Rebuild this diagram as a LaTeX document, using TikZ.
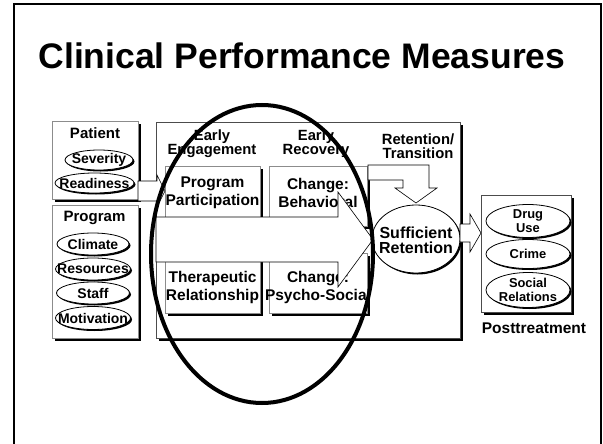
\documentclass[tikz,border=0pt]{standalone}
\usepackage{fontspec}
\setmainfont{Liberation Sans}
\usetikzlibrary{shapes.geometric,shadows}
\begin{document}
\begin{tikzpicture}[x=1pt,y=-1pt,
  shbox/.style={rectangle, draw=black!45, fill=white, line width=0.7pt, inner sep=0pt, anchor=north west,
    drop shadow={shadow xshift=3pt, shadow yshift=-3pt, opacity=1, fill=black}},
  shell/.style={ellipse, draw=black, fill=white, line width=0.8pt, inner sep=0pt,
    drop shadow={shadow xshift=1.5pt, shadow yshift=-1.5pt, opacity=1, fill=black}},
  blk/.style={draw=black, fill=white, line width=0.6pt, line join=miter},
  lbl/.style={font=\bfseries\fontsize{14.8}{14}\selectfont, align=center, inner sep=0pt},
  inlbl/.style={font=\bfseries\fontsize{15.5}{18}\selectfont, align=center, inner sep=0pt},
  elbl/.style={font=\bfseries\fontsize{14}{14}\selectfont, align=center, inner sep=0pt},
  plbl/.style={font=\bfseries\fontsize{12.9}{14}\selectfont, align=center, inner sep=0pt},
  hdr/.style={font=\bfseries\fontsize{15}{14}\selectfont, inner sep=0pt}
]
\useasboundingbox (0,0) rectangle (603,444);
% slide frame
\draw[line width=2pt] (14,446) -- (14,4) -- (601,4) -- (601,446);
% title
\node[font=\bfseries\fontsize{35.5}{40}\selectfont, anchor=base, inner sep=0pt] (title) at (302,69) {Clinical Performance Measures};

% main box
\node[shbox, draw=black!70, minimum width=304pt, minimum height=216pt] (main) at (156,122) {};
\node[lbl] (eng) at (212,144) {Early\\Engagement};
\node[lbl] (rec) at (316,144) {Early\\Recovery};
\node[lbl] (ret) at (418,146) {Retention/\\Transition};

% inner boxes
\node[shbox, minimum width=95pt, minimum height=60pt] (pp) at (165,166) {};
\node[shbox, minimum width=95pt, minimum height=60pt] (tr) at (165,253) {};
\node[shbox, minimum width=98pt, minimum height=60pt] (cb) at (269,166) {};
\node[shbox, minimum width=98pt, minimum height=60pt] (cp) at (269,253) {};
\node[inlbl] (pptext) at (212.5,193) {Program\\Participation};
\node[inlbl] (trtext) at (212.5,287) {Therapeutic\\Relationship};
\node[inlbl] (cbtext) at (318,193) {Change:\\Behavioral};
\node[inlbl] (cptext) at (318,287) {Change:\\Psycho-Social};

% bent arrow into Sufficient Retention
\draw[blk] (368,165) -- (429,165) -- (429,188) -- (437,188) -- (416,203) -- (395,188) -- (403,188) -- (403,180) -- (368,180) -- cycle;

% big arrow
\draw[blk] (156,217) -- (338,217) -- (338,192) -- (373,239.5) -- (338,287) -- (338,262) -- (156,262) -- cycle;

% sufficient retention
\node[shell, minimum width=88pt, minimum height=68pt] (suff) at (416,239) {};
\node[font=\bfseries\fontsize{16}{15}\selectfont, align=center, inner sep=0pt] (sufftext) at (416,240) {Sufficient\\Retention};

% patient box
\node[shbox, minimum width=86pt, minimum height=78pt] (patient) at (52,121) {};
\node[hdr] (pattext) at (95,133) {Patient};
\node[shell, minimum width=68pt, minimum height=20pt] (sev) at (99,160) {};
\node[elbl] at (sev) {Severity};
\node[shell, minimum width=79pt, minimum height=20pt] (rea) at (94.5,183) {};
\node[elbl] at (rea) {Readiness};

% program box
\node[shbox, minimum width=86pt, minimum height=133pt] (program) at (52,205) {};
\node[hdr] (progtext) at (94.5,218) {Program};
\node[shell, minimum width=72pt, minimum height=22pt] (cli) at (93,244) {};
\node[elbl] at (cli) {Climate};
\node[shell, minimum width=75pt, minimum height=22pt] (res) at (93,269) {};
\node[elbl] at (res) {Resources};
\node[shell, minimum width=73pt, minimum height=22pt] (sta) at (93,293) {};
\node[elbl] at (sta) {Staff};
\node[shell, minimum width=75pt, minimum height=23pt] (mot) at (93,318) {};
\node[elbl] at (mot) {Motivation};

% small arrow patient -> main
\draw[blk] (138,181) -- (157,181) -- (157,175) -- (165,191) -- (157,207) -- (157,201) -- (138,201) -- cycle;

% posttreatment
\draw[blk] (460,224) -- (470,224) -- (470,214) -- (481,233) -- (470,252) -- (470,242) -- (460,242) -- cycle;
\node[shbox, draw=black!70, minimum width=90pt, minimum height=117pt] (post) at (481,195) {};
\node[shell, minimum width=84pt, minimum height=33pt] (drug) at (528,221) {};
\node[plbl] at (drug) {Drug\\Use};
\node[shell, minimum width=84pt, minimum height=29pt] (crime) at (528,254) {};
\node[plbl] at (crime) {Crime};
\node[shell, minimum width=84pt, minimum height=35pt] (soc) at (528,290) {};
\node[plbl] at (soc) {Social\\Relations};
\node[font=\bfseries\fontsize{15.5}{16}\selectfont, inner sep=0pt] (posttext) at (534,328) {Posttreatment};

% focus ellipse
\node[draw=black, ellipse, line width=4pt, minimum width=222pt, minimum height=298pt, inner sep=0pt] (focus) at (262,254) {};
\end{tikzpicture}
\end{document}
